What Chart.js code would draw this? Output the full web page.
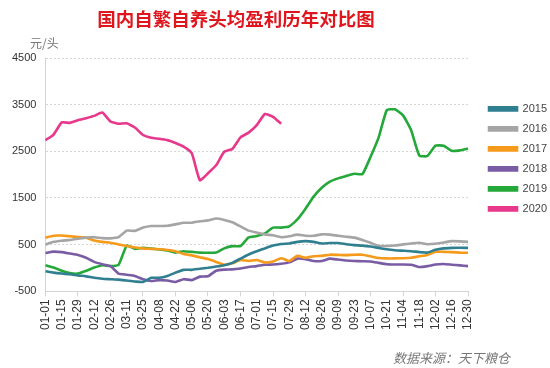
<!DOCTYPE html>
<html>
<head>
<meta charset="utf-8">
<script src="https://cdn.jsdelivr.net/npm/chart.js@4.4.1/dist/chart.umd.min.js"></script>
<style>
html, body { margin: 0; padding: 0; background: #fff; }
#wrap { position: relative; width: 550px; height: 368px; }
#title { position: absolute; left: 0; width: 472px; top: 5px; text-align: center;
  font: bold 18.5px "Noto Sans CJK SC", sans-serif; color: #e0161e; }
#unit { position: absolute; left: 30px; top: 34px; font: 12px "Noto Sans CJK SC", sans-serif; color: #777; }
#source { position: absolute; left: 393px; top: 348px; font: italic 13px "Noto Sans CJK SC", sans-serif; color: #777; }
</style>
</head>
<body>
<div id="wrap">
  <canvas id="chart" width="550" height="368"></canvas>
  <div id="title">国内自繁自养头均盈利历年对比图</div>
  <div id="unit">元/头</div>
  <div id="source">数据来源：天下粮仓</div>
</div>
<script>
// 每周一个点（01-01 起，每 7 天）
var categories = ['01-01','01-08','01-15','01-22','01-29','02-05','02-12','02-19','02-26','03-04',
  '03-11','03-18','03-25','04-01','04-08','04-15','04-22','04-29','05-06','05-13',
  '05-20','05-27','06-03','06-10','06-17','06-24','07-01','07-08','07-15','07-22',
  '07-29','08-05','08-12','08-19','08-26','09-02','09-09','09-16','09-23','09-30',
  '10-07','10-14','10-21','10-28','11-04','11-11','11-18','11-25','12-02','12-09',
  '12-16','12-23','12-30'];

var years = ['2015', '2016', '2017', '2018', '2019', '2020'];

var y2015 = [-70,-100,-120,-135,-160,-180,-210,-230,-240,-250,
  -270,-290,-300,-210,-210,-170,-100,-40,-40,-15,
  5,30,60,110,200,290,360,420,480,515,
  525,560,575,560,525,535,535,510,490,480,
  460,430,400,380,370,360,340,330,390,420,
  430,435,430];

var y2016 = [500,560,585,600,625,650,660,640,635,660,
  800,795,865,900,900,905,935,970,970,1000,
  1020,1060,1030,980,890,800,760,720,700,660,
  680,715,690,690,720,715,690,670,650,600,
  540,475,470,480,505,525,540,510,520,545,
  575,570,560];

var y2017 = [650,690,695,680,665,650,590,560,540,505,
  470,440,420,410,400,385,360,300,270,230,
  190,130,70,100,170,150,170,120,140,210,
  150,260,220,250,260,285,280,275,285,285,
  250,215,205,205,210,220,250,280,350,345,
  340,330,325];

var y2018 = [320,350,340,310,280,220,130,80,40,-120,
  -145,-170,-240,-280,-260,-270,-300,-240,-260,-185,
  -178,-60,-35,-30,-10,20,40,70,73,90,
  120,200,190,150,150,200,180,160,150,145,
  140,110,80,75,75,70,20,40,75,85,
  70,55,40];

var y2019 = [60,10,-60,-110,-120,-60,10,60,40,70,
  480,410,430,415,395,375,330,360,345,330,
  325,330,420,468,470,655,684,740,865,865,
  890,1040,1270,1530,1720,1850,1920,1970,2020,2010,
  2380,2800,3380,3400,3270,2950,2410,2400,2620,2620,
  2510,2520,2560];

var y2020 = [2740,2860,3120,3110,3165,3210,3260,3330,3140,3090,
  3100,3010,2850,2790,2770,2740,2680,2600,2460,1880,
  2030,2200,2490,2550,2800,2900,3060,3300,3240,3090];

var colors = ['#2f7f91', '#a5a5a5', '#f59a1b', '#7a5ca5', '#25a83a', '#e8388c'];
var yTicks = [-500, 500, 1500, 2500, 3500, 4500];

var series = [y2015, y2016, y2017, y2018, y2019, y2020];
var datasets = series.map(function (s, i) {
  return {
    label: years[i],
    data: s,
    borderColor: colors[i],
    backgroundColor: colors[i],
    borderWidth: 2.6,
    pointRadius: 0,
    tension: 0.15,
    fill: false
  };
});

var font = 'Liberation Sans, Arial, sans-serif';

new Chart(document.getElementById('chart'), {
  type: 'line',
  data: { labels: categories, datasets: datasets },
  options: {
    responsive: false,
    animation: false,
    layout: { padding: { top: 58, right: -7, bottom: 35, left: 3 } },
    plugins: {
      legend: {
        position: 'right',
        fullSize: false,
        align: 'start',
        title: { display: true, text: ' ', padding: { top: 0, bottom: 22 }, font: { size: 12 } },
        labels: {
          boxWidth: 28,
          boxHeight: 3,
          padding: 9,
          color: '#444',
          font: { family: font, size: 11 }
        }
      },
      tooltip: { enabled: false }
    },
    scales: {
      x: {
        grid: {
          drawOnChartArea: false,
          tickLength: 5,
          color: function (ctx) { return ctx.index % 4 === 0 ? '#d4d4d4' : 'rgba(0,0,0,0)'; }
        },
        border: { color: '#d4d4d4' },
        ticks: {
          autoSkip: false,
          minRotation: 90,
          maxRotation: 90,
          color: '#333',
          font: { family: font, size: 12 },
          callback: function (value, index) {
            return index % 2 === 0 ? this.getLabelForValue(value) : '';
          }
        }
      },
      y: {
        min: -500,
        max: 4500,
        afterBuildTicks: function (scale) {
          scale.ticks = yTicks.map(function (v) { return { value: v }; });
        },
        grid: { color: '#d6d6d6', drawTicks: false },
        border: { color: '#d4d4d4', dash: [2, 2] },
        ticks: {
          color: '#333',
          padding: 9,
          font: { family: font, size: 11 },
          callback: function (value) { return String(value); }
        }
      },
      gap: {
        position: 'right',
        display: true,
        grid: { display: false },
        border: { display: false },
        ticks: { display: false },
        afterFit: function (scale) { scale.width = 12; }
      }
    }
  }
});
</script>
</body>
</html>
